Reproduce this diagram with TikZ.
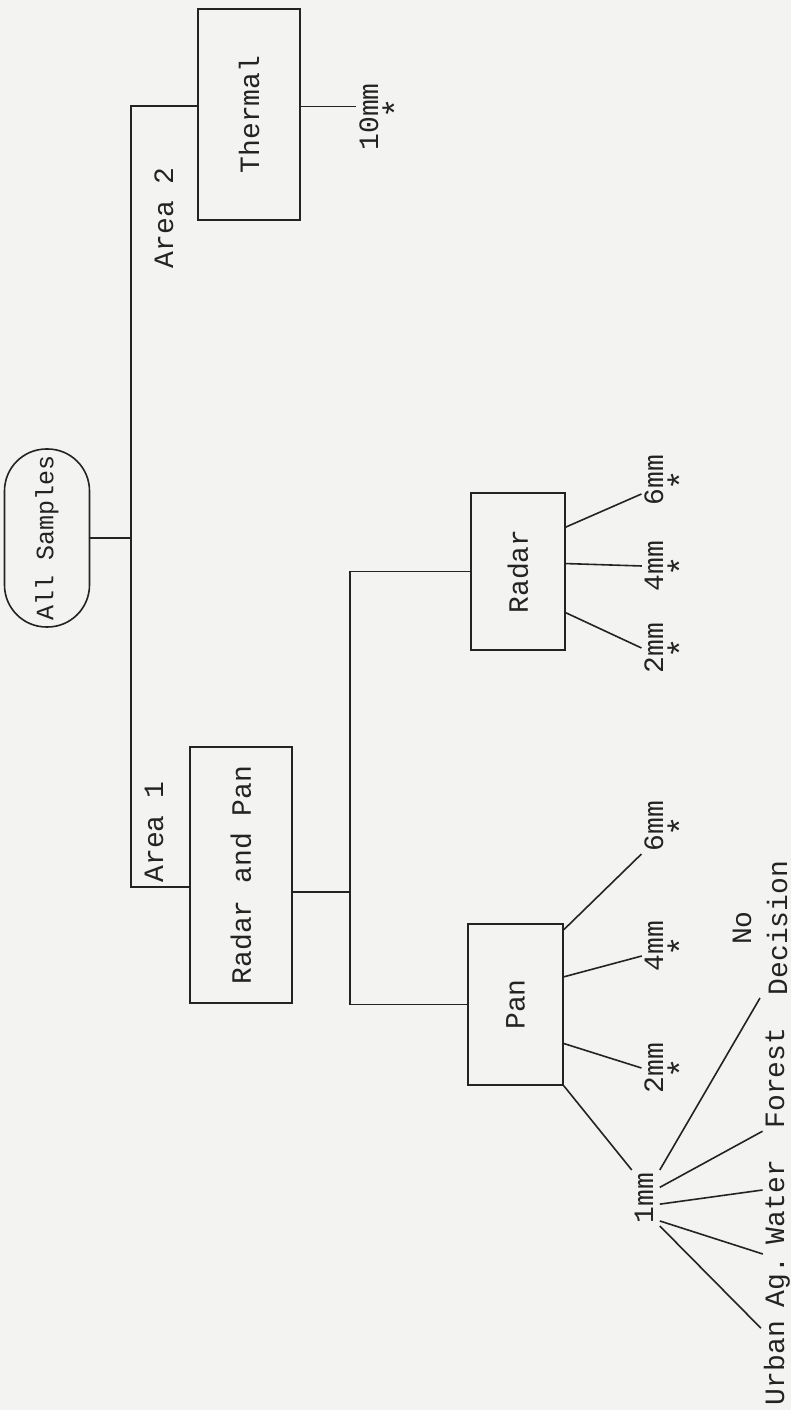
\documentclass[tikz,border=0pt]{standalone}
\usepackage{fontspec}
\setmonofont{Liberation Mono}
\usetikzlibrary{positioning,calc}
\definecolor{paper}{RGB}{243,243,241}
\definecolor{ink}{RGB}{35,35,35}
\newcommand{\tw}{\fontsize{14}{18}\selectfont\ttfamily}
\newcommand{\starred}[1]{\ooalign{#1\cr\hidewidth\raisebox{-14.5pt}{\fontsize{17}{17}\selectfont*}\hidewidth\cr}}

\begin{document}
\begin{tikzpicture}[x=0.5pt,y=-0.5pt,rotate=90,transform shape,ink,line width=0.8pt]
\tikzset{box/.style={draw,minimum height=51pt,inner sep=2pt,font=\tw},
  lbl/.style={font=\tw,inner sep=1pt,anchor=base}}
\fill[paper] (0,0) rectangle (1410,791);
\useasboundingbox (0,0) rectangle (1410,791);
% boxes
\node[box,rounded corners=21pt,minimum width=89pt,minimum height=42.5pt,font=\fontsize{12.5}{15}\selectfont\ttfamily] (all) at (872,47) {All Samples};
\node[box,minimum width=105.5pt] (th) at (1295.5,249) {\raisebox{-4pt}{Thermal}};
\node[box,minimum width=128pt] (rp) at (535,241) {\raisebox{-2pt}{Radar and Pan}};
\node[box,minimum width=78.5pt,minimum height=47pt] (radar) at (838.5,518) {Radar};
\node[box,minimum width=80.5pt,minimum height=47.5pt] (pan) at (405.5,515.5) {Pan};
% labels
\node[lbl] (a2) at (1192,173) {Area 2};
\node[lbl] (a1) at (578,163) {Area 1};
\node[lbl] (ten) at (1293,378) {10\starred{m}m};
\node[lbl] (r6) at (930,663) {6\starred{m}m};
\node[lbl] (r4) at (844,663) {4\starred{m}m};
\node[lbl] (r2) at (762,663) {2\starred{m}m};
\node[lbl] (p6) at (584,663) {6\starred{m}m};
\node[lbl] (p4) at (464,663) {4\starred{m}m};
\node[lbl] (p2) at (342,663) {2\starred{m}m};
\node[lbl] (one) at (212,653) {1mm};
\node[lbl] (urban) at (47,784) {Urban};
\node[lbl] (ag) at (128,784) {Ag.};
\node[lbl] (water) at (208,784) {Water};
\node[lbl] (forest) at (332,784) {Forest};
\node[lbl,anchor=center,align=center] (nd) at (482,760) {No\\Decision};
% tree
\coordinate (spine) at (0,131);
\coordinate (fork) at (0,350);
\coordinate (rptop) at ([xshift=-6pt]rp.north);
\coordinate (thtop) at ([xshift=4.25pt]th.north);
\coordinate (rpbot) at ([xshift=-8.5pt]rp.south);
\coordinate (thbot) at ([xshift=4pt]th.south);
\draw (all.south) -- (all.south |- spine);
\draw (rptop) -- (rptop |- spine) -- (thtop |- spine) -- (thtop);
\draw (thbot) -- (thbot |- ten.north);
\draw (rpbot) -- (rpbot |- fork);
\draw (pan.north) -- (pan.north |- fork) -- (radar.north |- fork) -- (radar.north);
% radar branches
\draw ($(radar.south west)!0.78!(radar.south east)$) -- ([xshift=-7pt]r6.north);
\draw ($(radar.south west)!0.55!(radar.south east)$) -- (r4.north);
\draw ($(radar.south west)!0.24!(radar.south east)$) -- (r2.north);
% pan branches
\draw ($(pan.south west)!0.96!(pan.south east)$) -- (p6.north west);
\draw ($(pan.south west)!0.67!(pan.south east)$) -- ([xshift=-5pt]p4.north);
\draw ($(pan.south west)!0.26!(pan.south east)$) -- (p2.north);
\draw (pan.south west) -- (one.north east);
% 1mm classes
\draw ([yshift=-2pt]one.south east) -- (nd.west);
\draw ([yshift=-2pt]$(one.south west)!0.69!(one.south east)$) -- (forest.north west);
\draw ([yshift=-2pt]$(one.south west)!0.39!(one.south east)$) -- ([xshift=6pt]water.north);
\draw ([yshift=-2pt]$(one.south west)!0.09!(one.south east)$) -- (ag.north east);
\draw ([yshift=-2pt]one.south west) -- ([xshift=-5pt]urban.north east);
\end{tikzpicture}
\end{document}
